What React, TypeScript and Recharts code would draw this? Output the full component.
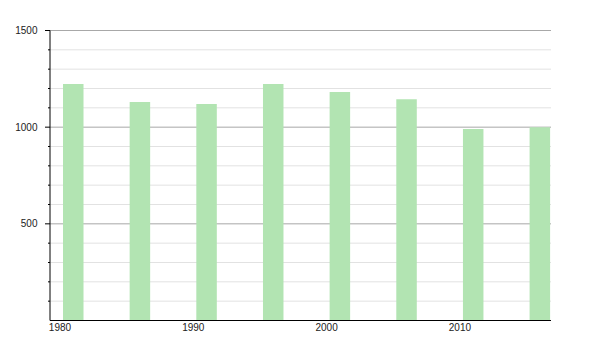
import { BarChart, Bar, XAxis, YAxis, CartesianGrid } from "recharts";

const YEARS = [1981, 1986, 1991, 1996, 2001, 2006, 2011, 2016];
const POPULATION = [1223, 1130, 1120, 1223, 1182, 1144, 991, 1000];
const X_TICKS = [1980, 1990, 2000, 2010];
const Y_TICKS = [100, 200, 300, 400, 500, 600, 700, 800, 900, 1000, 1100, 1200, 1300, 1400, 1500];
const MAJOR_LINES = [500, 1000, 1500];
const MINOR_LINES = [100, 200, 300, 400, 600, 700, 800, 900, 1100, 1200, 1300, 1400];

const data = YEARS.map((year, i) => ({ year, population: POPULATION[i] }));

function YTick(props: any) {
  const { x, y, payload } = props;
  const major = payload.value % 500 === 0;
  return (
    <g>
      <line x1={x - (major ? 5 : 2)} x2={x} y1={y} y2={y} stroke="#000" />
      {major && (
        <text x={x - 12.5} y={y} dy={3.6} textAnchor="end" fontSize={10} fill="#222">
          {payload.value}
        </text>
      )}
    </g>
  );
}

export default function App() {
  return (
    <div style={{ position: "absolute", left: 0, top: 0, fontFamily: "'Liberation Sans', Arial, sans-serif" }}>
      <BarChart
        width={600}
        height={350}
        data={data}
        margin={{ top: 30.5, right: 49, left: 0, bottom: 9.5 }}
      >
        <CartesianGrid vertical={false} horizontalValues={MINOR_LINES} stroke="#e2e2e2" />
        <CartesianGrid vertical={false} horizontalValues={MAJOR_LINES} stroke="#a8a8a8" />
        <XAxis
          dataKey="year"
          type="number"
          domain={[1979.25, 2016.83]}
          allowDataOverflow
          ticks={X_TICKS}
          tickLine={false}
          tickSize={0}
          tickMargin={3.5}
          height={20}
          axisLine={{ stroke: "#000" }}
          tick={{ fontSize: 10, fill: "#222" }}
        />
        <YAxis
          type="number"
          domain={[0, 1500]}
          allowDataOverflow
          ticks={Y_TICKS}
          interval={0}
          width={50}
          tickLine={false}
          tickSize={0}
          tickMargin={0}
          axisLine={{ stroke: "#000" }}
          tick={<YTick />}
        />
        <Bar dataKey="population" fill="#b2e4b2" barSize={20.5} isAnimationActive={false} />
      </BarChart>
    </div>
  );
}
